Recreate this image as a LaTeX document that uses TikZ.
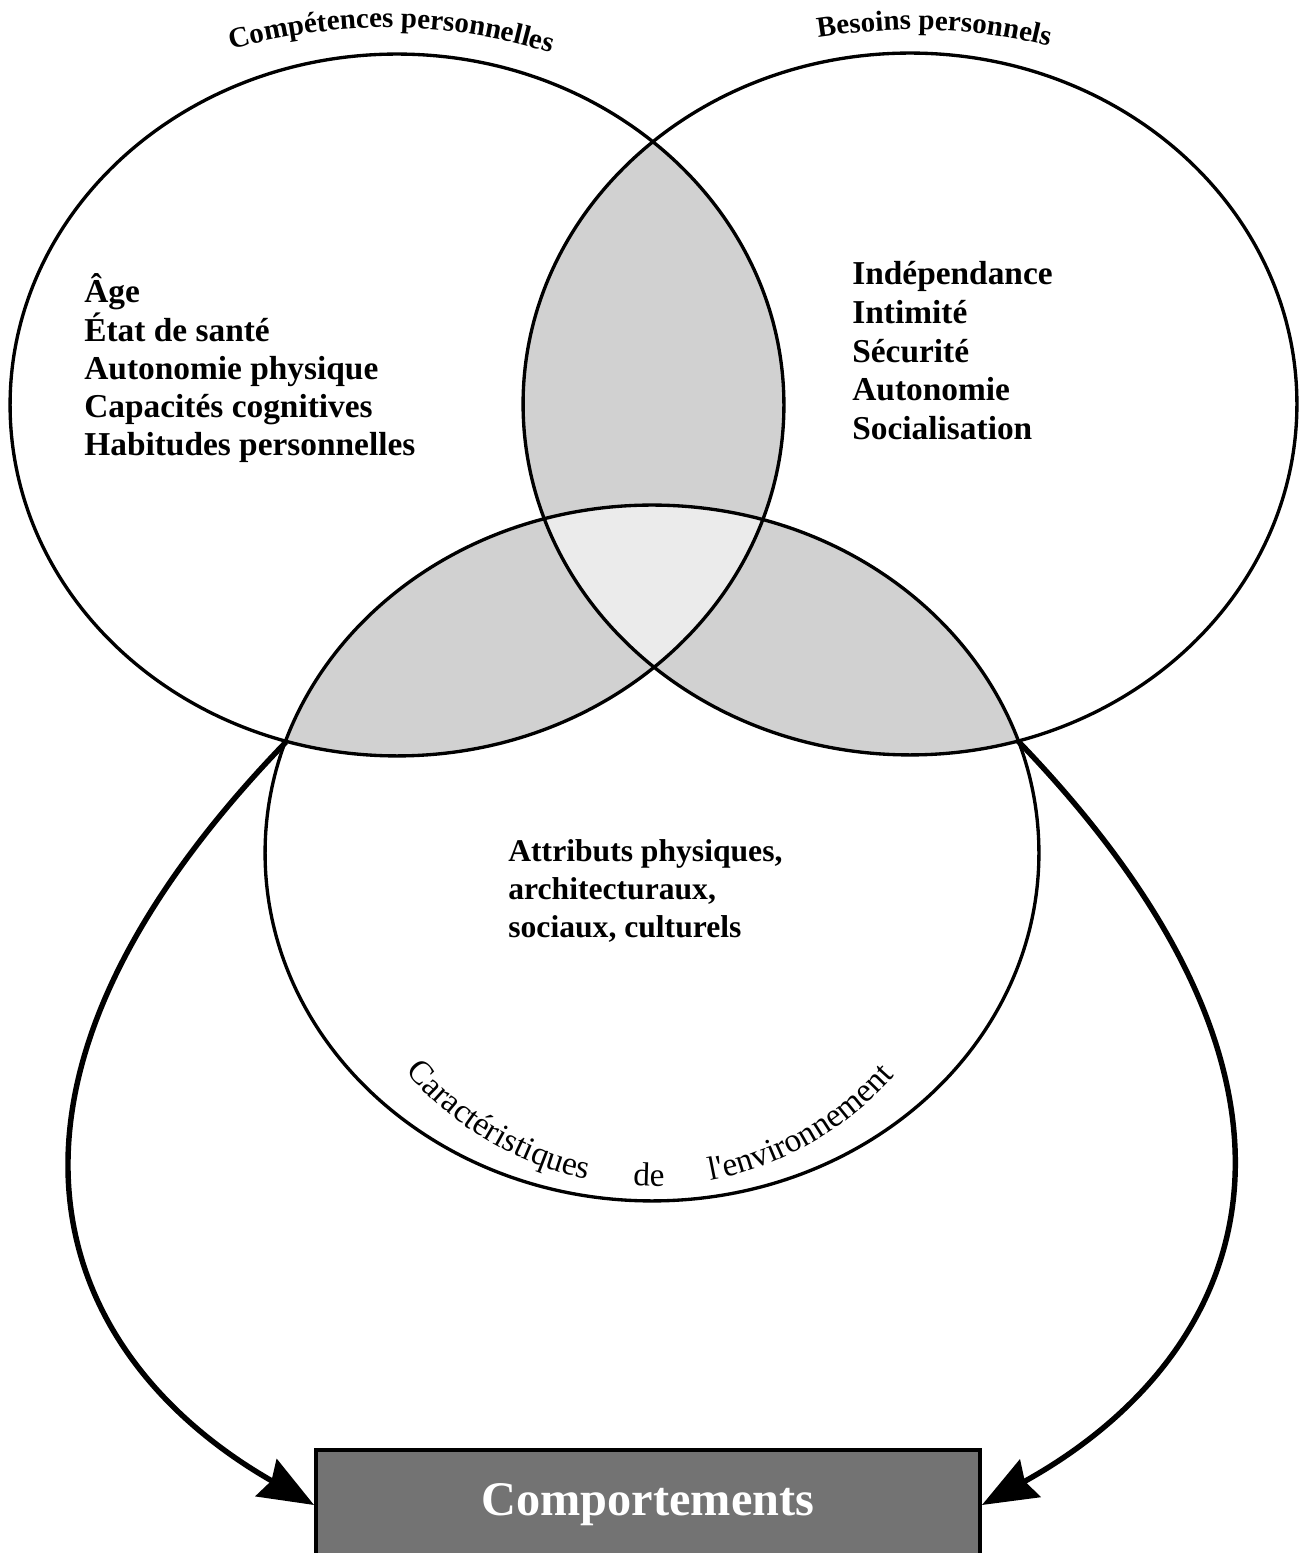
\documentclass[tikz,border=0pt]{standalone}
\usepackage{fontspec}
\setmainfont{Liberation Serif}
\font\rawserif="Liberation Serif" at 19pt
\usetikzlibrary{arrows.meta,decorations.text}
\begin{document}
\begin{tikzpicture}[x=0.02cm,y=0.02cm,
  ring/.style={line width=1.9pt},
  flow/.style={line width=3.1pt,-{Stealth[length=1.1cm,width=0.85cm,inset=0.12cm]}},
  item/.style={anchor=base west,inner sep=0pt,font=\bfseries\fontsize{19}{22}\selectfont},
  subitem/.style={anchor=base west,inner sep=0pt,font=\bfseries\fontsize{18}{22}\selectfont},
  outbox/.style={draw=black,line width=2.3pt,fill=black!55,minimum width=13.28cm,minimum height=2.2cm,inner sep=0pt,text=white,font=\bfseries\fontsize{27.5}{30}\selectfont},
  pairfill/.style={fill=black!18},
  triplefill/.style={fill=black!8}
]
\useasboundingbox (0,0) rectangle (1305,1553);
% shaded overlaps
\begin{scope}
  \clip (397,1148) ellipse [x radius=7.74cm,y radius=7.02cm];
  \path[pairfill] (910,1149) ellipse [x radius=7.74cm,y radius=7.02cm];
  \path[pairfill] (652,700) ellipse [x radius=7.74cm,y radius=6.96cm];
\end{scope}
\begin{scope}
  \clip (910,1149) ellipse [x radius=7.74cm,y radius=7.02cm];
  \path[pairfill] (652,700) ellipse [x radius=7.74cm,y radius=6.96cm];
\end{scope}
\begin{scope}
  \clip (397,1148) ellipse [x radius=7.74cm,y radius=7.02cm];
  \clip (910,1149) ellipse [x radius=7.74cm,y radius=7.02cm];
  \path[triplefill] (652,700) ellipse [x radius=7.74cm,y radius=6.96cm];
\end{scope}
% the three sets
\draw[ring] (397,1148) ellipse [x radius=7.74cm,y radius=7.02cm];
\draw[ring] (910,1149) ellipse [x radius=7.74cm,y radius=7.02cm];
\draw[ring] (652,700) ellipse [x radius=7.74cm,y radius=6.96cm];
% labels on arcs
\path[decorate,decoration={text along path,text align=center,
  text={|\bfseries\fontsize{16.5}{18}\selectfont|Compétences personnelles}}]
  (222,1501) .. controls (335,1534) and (450,1534) .. (560,1497);
\path[decorate,decoration={text along path,text align=center,
  text={|\bfseries\fontsize{16.5}{18}\selectfont|Besoins personnels}}]
  (805,1513) .. controls (890,1528) and (975,1528) .. (1062,1503);
\path[decorate,decoration={text along path,text align={fit to path stretching spaces},
  text={|\rawserif|Caractéristiques de l'environnement}}]
  (406,481.5) arc[start angle=221,end angle=318,x radius=6.52cm,y radius=6.66cm];
% contents
\node[item] (a1) at (84,1250) {Âge};
\node[item] (a2) at (84,1211) {État de santé};
\node[item] (a3) at (84,1173) {Autonomie physique};
\node[item] (a4) at (84,1135) {Capacités cognitives};
\node[item] (a5) at (84,1097) {Habitudes personnelles};
\node[item] (b1) at (852,1268) {Indépendance};
\node[item] (b2) at (852,1229) {Intimité};
\node[item] (b3) at (852,1190) {Sécurité};
\node[item] (b4) at (852,1152) {Autonomie};
\node[item] (b5) at (852,1113) {Socialisation};
\node[subitem] (c1) at (508,691) {Attributs physiques,};
\node[subitem] (c2) at (508,653) {architecturaux,};
\node[subitem] (c3) at (508,615) {sociaux, culturels};
% outcome
\node[outbox] (box) at (648,48) {Comportements};
\coordinate (ls) at (286,811);
\coordinate (rs) at (1018,812);
\draw[flow] (ls) .. controls (-60,453) and (60,193) .. (box.west);
\draw[flow] (rs) .. controls (1364,453) and (1244,193) .. (box.east);
\end{tikzpicture}
\end{document}
